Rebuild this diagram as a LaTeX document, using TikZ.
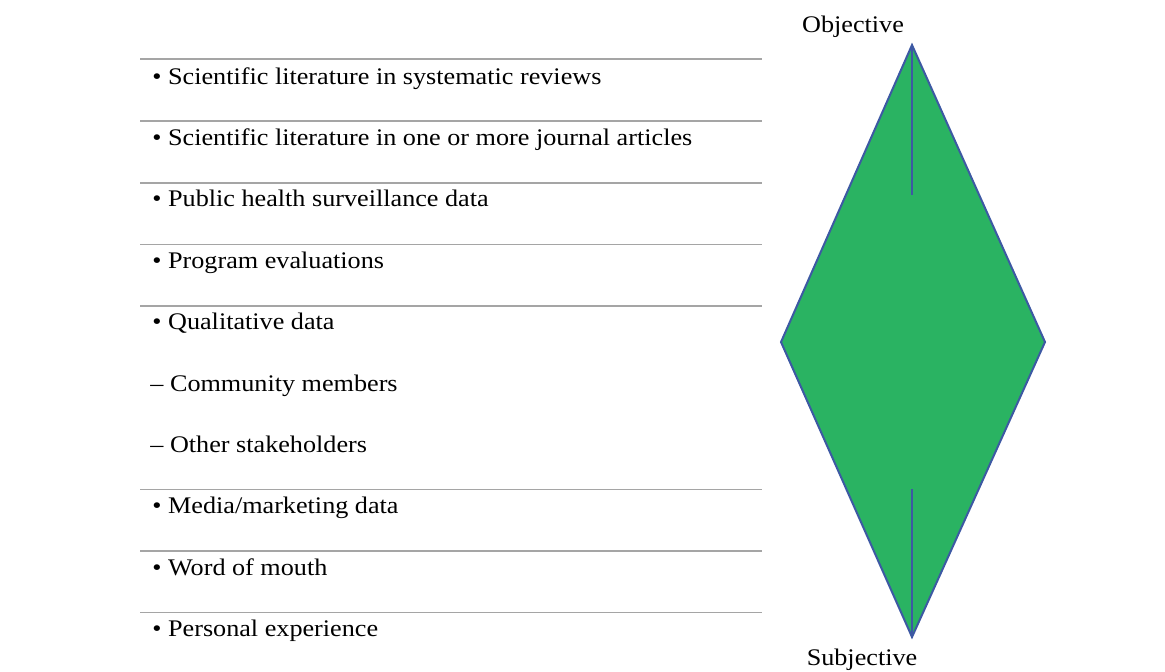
\documentclass[tikz,border=0pt]{standalone}
\usepackage{fontspec}
\setmainfont{Liberation Serif}
\usepackage{graphicx}
\usepackage{tikz}
\usetikzlibrary{positioning}

\definecolor{leafgreen}{RGB}{42,179,98}
\definecolor{edgeblue}{RGB}{61,89,163}
\definecolor{rulegray}{RGB}{165,165,165}

% the figure's lettering is a little wider than the font
\newcommand{\widetext}[1]{\scalebox{1.1}[1]{#1}}

\begin{document}
\begin{tikzpicture}[x=0.5pt, y=-0.5pt,
      item/.style={anchor=base west, inner sep=0pt, font=\fontsize{11.9}{14}\selectfont},
      pole/.style={anchor=base, inner sep=0pt, font=\fontsize{11.9}{14}\selectfont},
      rule/.style={draw=rulegray, line width=0.9pt}]
      \useasboundingbox (0,0) rectangle (1165,671);

      % source list
      \node (sys)   at (152,84)    [item] {\widetext{• Scientific literature in systematic reviews}};
      \node (jour)  at (152,145.4) [item] {\widetext{• Scientific literature in one or more journal articles}};
      \node (surv)  at (152,206.8) [item] {\widetext{• Public health surveillance data}};
      \node (prog)  at (152,268.2) [item] {\widetext{• Program evaluations}};
      \node (qual)  at (152,329.6) [item] {\widetext{• Qualitative data}};
      \node (comm)  at (150,391)   [item] {\widetext{– Community members}};
      \node (other) at (150,452.4) [item] {\widetext{– Other stakeholders}};
      \node (media) at (152,513.8) [item] {\widetext{• Media/marketing data}};
      \node (word)  at (152,575.2) [item] {\widetext{• Word of mouth}};
      \node (pers)  at (152,636.6) [item] {\widetext{• Personal experience}};

      \foreach \y in {59,121,183,244.5,306,489.5,551,612.5}
         \draw [rule] (140,\y) -- (762,\y);

      % the diamond
      \coordinate (top) at (912,45);
      \coordinate (right) at (1045,342);
      \coordinate (bottom) at (912,637);
      \coordinate (left) at (781,342);
      \coordinate (topend) at (912,195);
      \coordinate (botend) at (912,489);
      \draw [edgeblue, line width=1pt, fill=leafgreen, line join=miter]
         (top) -- (right) -- (bottom) -- (left) -- cycle;
      \draw [edgeblue, line width=1.2pt] (top) -- (topend);
      \draw [edgeblue, line width=1.2pt] (botend) -- (bottom);

      \node (obj) at (853,32.7) [pole] {\widetext{Objective}};
      \node (subj) at (862,665) [pole] {\widetext{Subjective}};
   \end{tikzpicture}
\end{document}
